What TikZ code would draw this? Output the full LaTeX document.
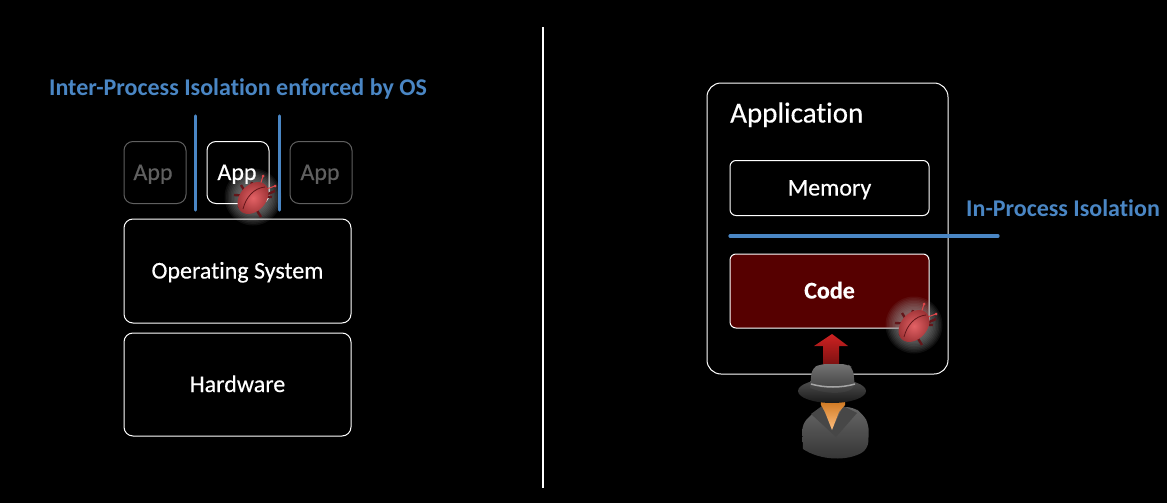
\documentclass[tikz,border=0pt]{standalone}
\usepackage{fontspec}
\setmainfont[Ligatures=CommonOff]{Carlito}
\newfontfamily\slidefont[Ligatures=CommonOff,FakeBold=0.35]{Carlito}
\usetikzlibrary{positioning}

\definecolor{isoblue}{RGB}{74,134,196}
\definecolor{dimgrey}{RGB}{96,96,96}
\definecolor{codered}{RGB}{86,0,0}
\definecolor{bugred}{RGB}{222,70,74}
\definecolor{legred}{RGB}{100,22,26}
\definecolor{arrowred}{RGB}{206,34,34}
\definecolor{arrowdark}{RGB}{120,16,16}

\tikzset{
box/.style={draw=white,line width=1pt,rounded corners=9pt,text=white,font=\fontsize{24}{28}\slidefont,inner sep=0pt,text height=15pt,text depth=0pt},
dimbox/.style={box,draw=dimgrey,text=dimgrey},
isoline/.style={draw=isoblue,line width=3.2pt,line cap=round},
isolabel/.style={text=isoblue,font=\fontsize{24}{28}\selectfont\bfseries,inner sep=0pt},
pics/bugglow/.style={code={
  \foreach \r in {15,16.5,...,28.5}
    \fill[white!62!black,opacity=0.09] (0,-1) circle (\r);
}},
pics/bug/.style={code={
  \draw[legred,line width=2.4pt]
    (-19,-3) -- (19,-1)
    (-12,-13) -- (8,19)
    (-1,-16) -- (-8,14)
    (-15,9) -- (22,-7);
  \draw[bugred,line width=1pt] (6,-9) -- (10,-22) (8,-7) -- (22,-12);
  \fill[bugred] (10,-22) circle (1.5) (22,-12) circle (1.5);
  \shade[rotate=48,inner color=bugred!85!white,outer color=bugred!70!black] (0,0) ellipse [x radius=18,y radius=13];
  \draw[legred,line width=0.8pt] (-10,11) .. controls (-7,-1) and (1,-10) .. (12,-11);
}},
pics/spy/.style={code={
  % coat
  \shade[top color=black!60,bottom color=black!80,rounded corners=7pt]
    (-30,34) -- (-31,9) -- (-19,-3) -- (-11,-8) -- (20,-8) -- (30,-1) -- (36,10) -- (35,34) .. controls (15,46) and (-12,46) .. (-30,34);
  \fill[black!72] (-22,-1) -- (-11,-9) -- (-1,15) -- (10,-9) -- (24,-2) -- (3,22) -- cycle;
  % face
  \shade[top color=orange!75!black,bottom color=orange!50!white]
    (-13,-24) -- (13,-24) -- (12,-10) -- (6,-3) -- (-1,15) -- (-8,-3) -- (-12,-10) -- cycle;
  % hat
  \shade[top color=black!68,bottom color=black!90] (-1,-24) ellipse [x radius=34,y radius=12];
  \shade[top color=black!55,bottom color=black!78,rounded corners=6pt]
    (-23,-27) -- (-21,-47) -- (-12,-51) -- (14,-51) -- (20,-47) -- (22,-27) .. controls (8,-21) and (-8,-21) .. (-23,-27);
  \draw[black!35,line width=1.5pt] (-22,-31) .. controls (-8,-27) and (8,-27) .. (22,-31);
}},
}

\begin{document}
\begin{tikzpicture}[%
x={(1pt,0pt)},
y={(0pt,-1pt)},
]

\fill[black] (0,0) rectangle (1167,503);

%Divider
\coordinate (divtop) at (543,27);
\coordinate (divbot) at (543,488);
\draw[white,line width=1.6pt] (divtop) -- (divbot);

\pic at (253,198) {bugglow};

%Left stack
\node[dimbox,minimum width=62pt,minimum height=62pt] (appa) at (155,172.5){App\kern4pt};
\node[box,minimum width=62pt,minimum height=62pt] (appb) at (238,172.5){App\kern2pt};
\node[dimbox,minimum width=62pt,minimum height=62pt] (appc) at (321,172.5){App\kern2pt};
\node[box,minimum width=227pt,minimum height=104pt] (os) at (237.5,271){Operating System};
\node[box,minimum width=227pt,minimum height=103pt] (hw) at (237.5,384.5){Hardware};
\node[isolabel] (interlabel) at (238,89){Inter-Process Isolation enforced by OS};

\coordinate (isoatop) at (195.5,116);
\coordinate (isoabot) at (195.5,210);
\coordinate (isobtop) at (279.5,116);
\coordinate (isobbot) at (279.5,210);
\draw[isoline] (isoatop) -- (isoabot);
\draw[isoline] (isobtop) -- (isobbot);

\pic at (253,198) {bug};

%Right side
\node[box,minimum width=241pt,minimum height=291pt,rounded corners=14pt] (application) at (827.5,228.5){};
\node[text=white,font=\fontsize{29}{33}\slidefont,anchor=west,inner sep=0pt,text height=18pt,text depth=0pt] (applabel) at (730,113.5){Application};
\node[box,minimum width=199pt,minimum height=55pt,rounded corners=6pt] (memory) at (829.5,188){Memory};
\node[box,fill=codered,minimum width=199pt,minimum height=74pt,rounded corners=6pt] (code) at (829.5,291){\bfseries Code};
\node[isolabel,anchor=west] (inlabel) at (966,208){In-Process Isolation};

\coordinate (isocleft) at (730,236);
\coordinate (isocright) at (998,236);
\draw[isoline] (isocleft) -- (isocright);

\pic at (914,326) {bugglow};
\pic at (914,326) {bug};

%Arrow
\shade[top color=arrowred,bottom color=arrowdark]
  (832,334) -- (848,346) -- (839,346) -- (839,366) -- (823,366) -- (823,346) -- (814,346) -- cycle;

\pic at (833,415) {spy};

\end{tikzpicture}
\end{document}
